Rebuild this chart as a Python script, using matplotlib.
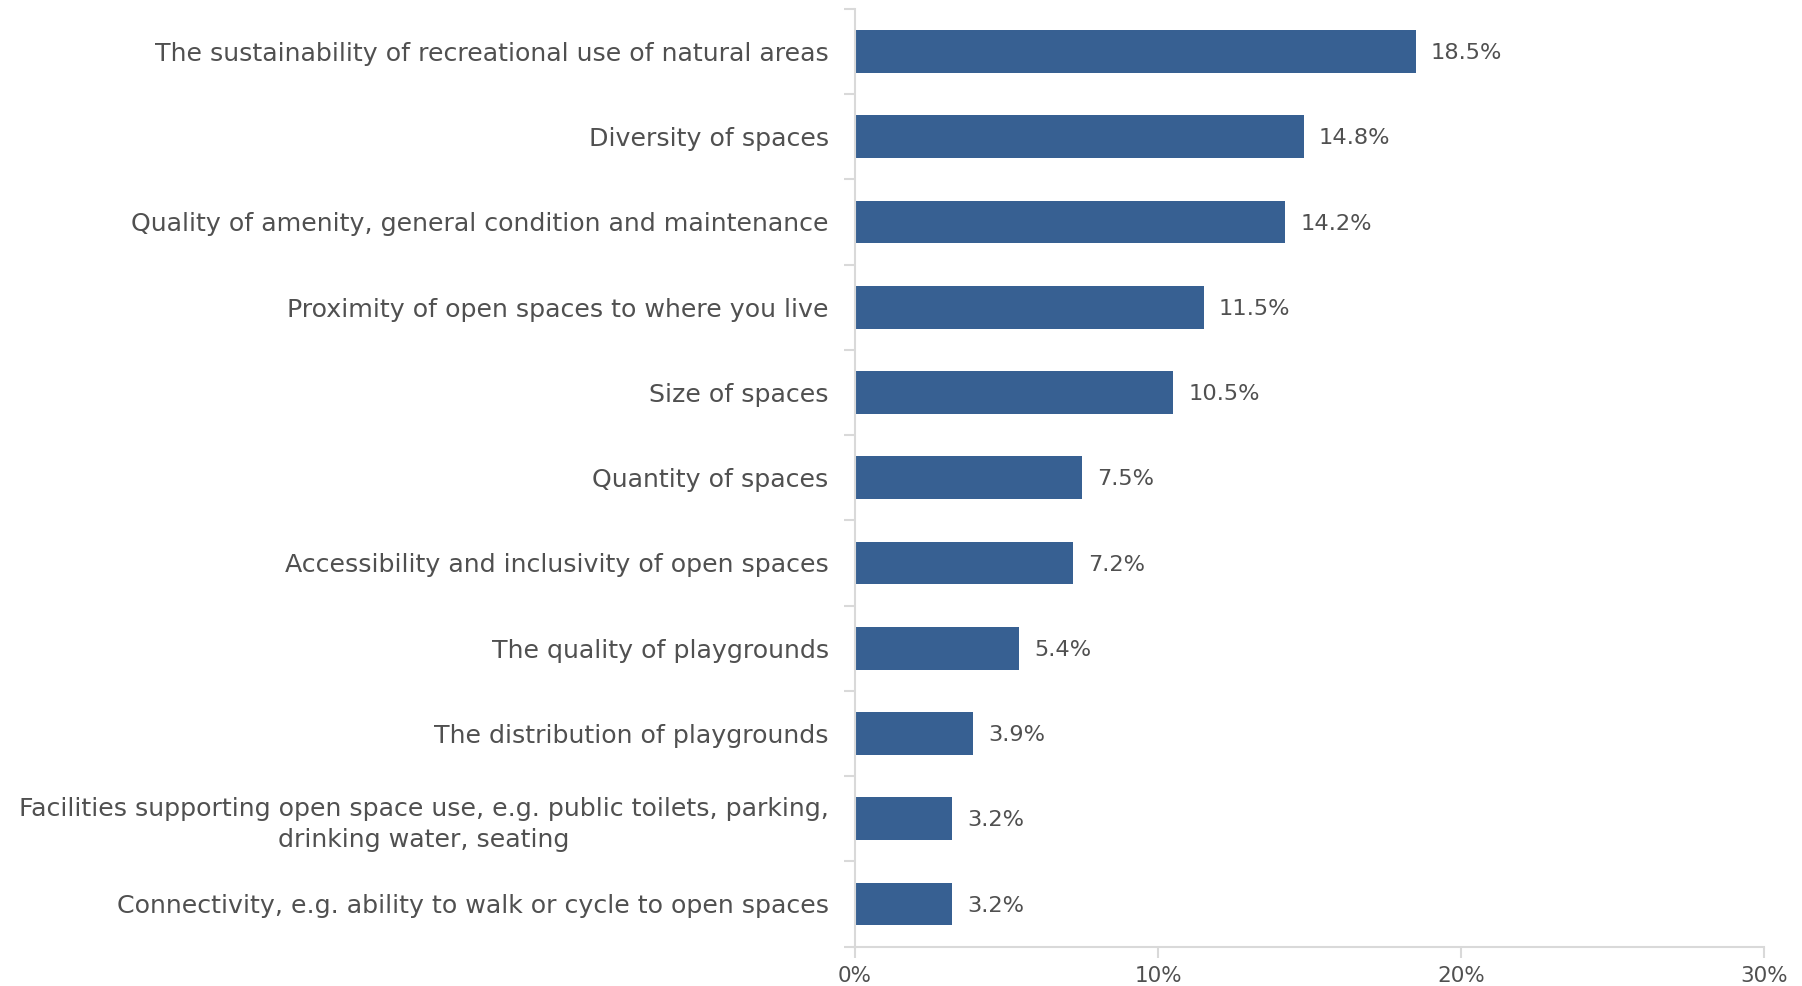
import matplotlib
matplotlib.use("Agg")
import matplotlib.pyplot as plt
from matplotlib.ticker import FixedLocator, NullFormatter, PercentFormatter

categories = [
    "The sustainability of recreational use of natural areas",
    "Diversity of spaces",
    "Quality of amenity, general condition and maintenance",
    "Proximity of open spaces to where you live",
    "Size of spaces",
    "Quantity of spaces",
    "Accessibility and inclusivity of open spaces",
    "The quality of playgrounds",
    "The distribution of playgrounds",
    "Facilities supporting open space use, e.g. public toilets, parking,\ndrinking water, seating",
    "Connectivity, e.g. ability to walk or cycle to open spaces",
]
values = [18.5, 14.8, 14.2, 11.5, 10.5, 7.5, 7.2, 5.4, 3.9, 3.2, 3.2]
xticks = [0, 10, 20, 30]

BAR = "#376092"
TEXT = "#505050"
AXIS = "#d9d9d9"
FONT = "DejaVu Sans"

fig = plt.figure(figsize=(18.02, 9.86), dpi=100)
ax = fig.add_axes([0.4745, 0.040, 0.5045, 0.951])

pos = list(range(len(categories)))
ax.barh(pos, values, height=0.5, color=BAR, zorder=2)
ax.set_ylim(len(categories) - 0.5, -0.5)
ax.set_xlim(0, 30)

for p, v in zip(pos, values):
    ax.text(v + 0.5, p + 0.02, f"{v:.1f}%", va="center", ha="left",
            fontsize=16.2, color=TEXT, family=FONT)

# category labels
ax.set_yticks(pos)
ax.set_yticklabels(categories, fontsize=18.2, color=TEXT, family=FONT,
                   linespacing=1.38)
for lab in ax.get_yticklabels():
    lab.set_multialignment("center")
ax.tick_params(axis="y", length=0, pad=19)
# boundary tick marks between categories
ax.yaxis.set_minor_locator(FixedLocator([p - 0.5 for p in pos] + [len(pos) - 0.5]))
ax.yaxis.set_minor_formatter(NullFormatter())
ax.tick_params(axis="y", which="minor", length=8, width=1.5, color=AXIS)

ax.set_xticks(xticks)
ax.xaxis.set_major_formatter(PercentFormatter(decimals=0))
ax.tick_params(axis="x", length=8, width=1.5, color=AXIS, labelsize=15.5,
               labelcolor=TEXT, pad=6)
for lab in ax.get_xticklabels():
    lab.set_family(FONT)

for s in ["top", "right"]:
    ax.spines[s].set_visible(False)
for s in ["left", "bottom"]:
    ax.spines[s].set_color(AXIS)
    ax.spines[s].set_linewidth(1.5)

fig.savefig("out.png", dpi=100, facecolor="white")
